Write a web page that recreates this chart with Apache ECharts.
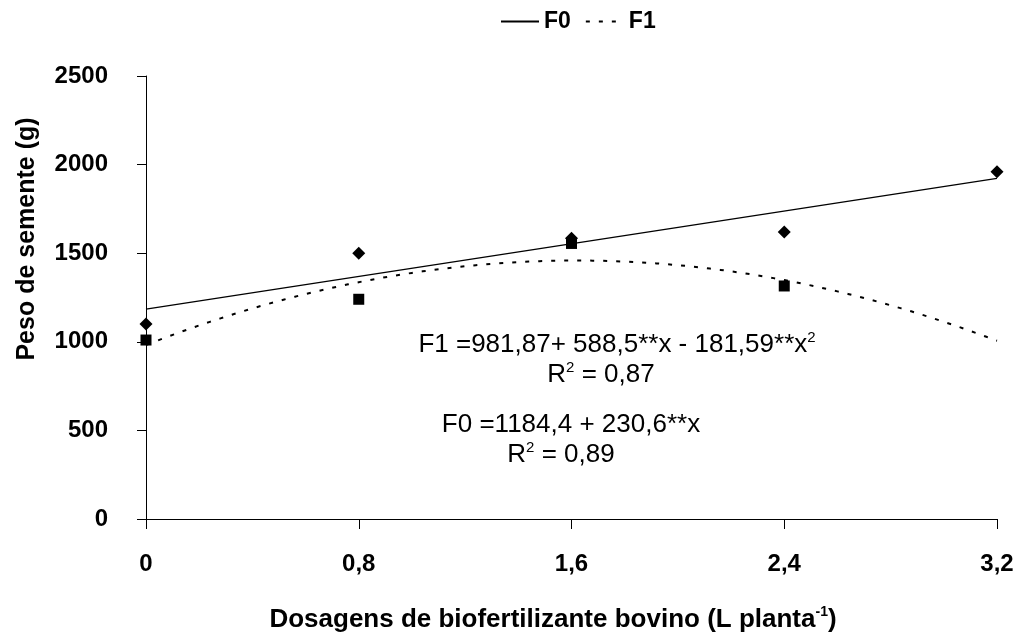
<!DOCTYPE html>
<html>
<head>
<meta charset="utf-8">
<script src="https://cdn.jsdelivr.net/npm/echarts@6/dist/echarts.min.js"></script>
<style>
  html, body { margin: 0; padding: 0; background: #fff; }
  #chart { width: 1017px; height: 636px; }
</style>
</head>
<body>
<div id="chart"></div>
<script>
// Doses of bovine biofertilizer (L per plant)
const doses = [0, 0.8, 1.6, 2.4, 3.2];
const xTickLabels = ['0', '0,8', '1,6', '2,4', '3,2'];

// Observed seed weight (g)
const f0Obs = [1100, 1500, 1585, 1620, 1960];
const f1Obs = [1010, 1240, 1555, 1315, null];

// Fitted regression coefficients (constant, x, x^2)
const f0Coef = [1184.4, 230.6];
const f1Coef = [981.87, 588.5, -181.59];

const poly = (c, x) => c.reduce((s, k, i) => s + k * Math.pow(x, i), 0);

const f0Fit = [[doses[0], poly(f0Coef, doses[0])], [doses[4], poly(f0Coef, doses[4])]];
const f1Fit = [];
for (let i = 0; i <= 80; i++) {
  const x = i * 0.04;
  f1Fit.push([x, poly(f1Coef, x)]);
}

const FONT = 'Liberation Sans, Arial, sans-serif';
const sup = { fontFamily: FONT, fontSize: 15, lineHeight: 14, verticalAlign: 'top', color: '#000' };
const body = { fontFamily: FONT, fontSize: 26, lineHeight: 30, color: '#000' };

const chart = echarts.init(document.getElementById('chart'));
chart.setOption({
  animation: false,
  backgroundColor: '#fff',
  legend: {
    left: 500, top: 10, padding: 0,
    data: ['F0', 'F1'],
    itemWidth: 38, itemHeight: 1, itemGap: 14,
    itemStyle: { opacity: 0 },
    textStyle: { fontFamily: FONT, fontSize: 23, fontWeight: 'bold', color: '#000' }
  },
  grid: { left: 146, right: 20, top: 76, bottom: 117 },
  xAxis: {
    type: 'value', min: 0, max: 3.2, interval: 0.8,
    axisLine: { lineStyle: { color: '#000', width: 1 } },
    axisTick: { length: 10, lineStyle: { color: '#000' } },
    splitLine: { show: false },
    axisLabel: {
      margin: 33, fontFamily: FONT, fontSize: 24, fontWeight: 'bold', color: '#000',
      formatter: v => xTickLabels[Math.round(v / 0.8)]
    }
  },
  yAxis: {
    type: 'value', min: 0, max: 2500, interval: 500,
    axisLine: { show: true, lineStyle: { color: '#000', width: 1 } },
    axisTick: { show: true, length: 9, lineStyle: { color: '#000' } },
    splitLine: { show: false },
    axisLabel: {
      margin: 38, fontFamily: FONT, fontSize: 24, fontWeight: 'bold', color: '#000',
      formatter: v => String(v)
    }
  },
  series: [
    {
      name: 'F0', type: 'line', data: f0Fit, symbol: 'none', z: 2,
      lineStyle: { color: '#000', width: 1.3 }, itemStyle: { color: '#000' }
    },
    {
      name: 'F1', type: 'line', data: f1Fit, symbol: 'none', z: 2,
      lineStyle: { color: '#000', width: 2, type: [4, 9] }, itemStyle: { color: '#000' }
    },
    {
      name: 'F0 observado', type: 'scatter', symbol: 'diamond', symbolSize: 13, z: 3,
      data: doses.map((d, i) => [d, f0Obs[i]]),
      itemStyle: { color: '#000', opacity: 1 }
    },
    {
      name: 'F1 observado', type: 'scatter', symbol: 'rect', symbolSize: 11, z: 3,
      data: doses.map((d, i) => [d, f1Obs[i]]).filter(p => p[1] !== null),
      itemStyle: { color: '#000', opacity: 1 }
    }
  ],
  graphic: [
    {
      type: 'text', x: 617, y: 345,
      style: {
        text: '{m|F1 =981,87+ 588,5**x - 181,59**x}{s|2}',
        align: 'center', verticalAlign: 'middle',
        rich: { m: body, s: sup }
      }
    },
    {
      type: 'text', x: 601, y: 375,
      style: {
        text: '{m|R}{s|2}{m| = 0,87}',
        align: 'center', verticalAlign: 'middle',
        rich: { m: body, s: sup }
      }
    },
    {
      type: 'text', x: 571, y: 425,
      style: {
        text: '{m|F0 =1184,4 + 230,6**x}',
        align: 'center', verticalAlign: 'middle',
        rich: { m: body }
      }
    },
    {
      type: 'text', x: 561, y: 455,
      style: {
        text: '{m|R}{s|2}{m| = 0,89}',
        align: 'center', verticalAlign: 'middle',
        rich: { m: body, s: sup }
      }
    },
    {
      type: 'text', x: 553, y: 620,
      style: {
        text: '{m|Dosagens de biofertilizante bovino (L planta}{s|-1}{m|)}',
        align: 'center', verticalAlign: 'middle',
        rich: {
          m: { fontFamily: FONT, fontSize: 26, fontWeight: 'bold', lineHeight: 30, color: '#000' },
          s: { fontFamily: FONT, fontSize: 14, fontWeight: 'bold', lineHeight: 14, verticalAlign: 'top', color: '#000' }
        }
      }
    },
    {
      type: 'text', x: 27, y: 239, rotation: Math.PI / 2,
      style: {
        text: 'Peso de semente (g)',
        align: 'center', verticalAlign: 'middle',
        fontFamily: FONT, fontSize: 25, fontWeight: 'bold', fill: '#000'
      }
    }
  ]
});
</script>
</body>
</html>
